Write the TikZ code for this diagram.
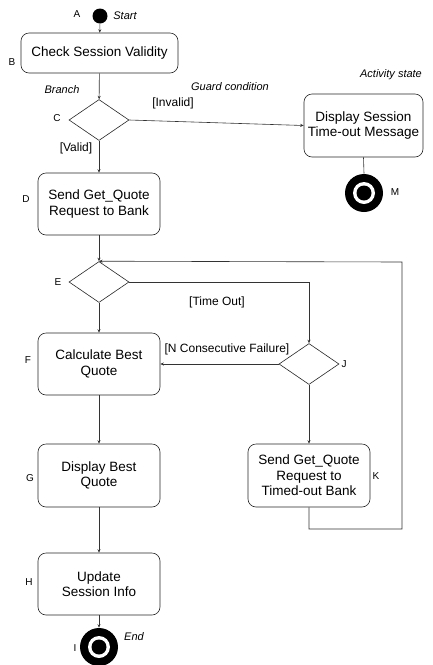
\documentclass[tikz,border=0pt]{standalone}
\usepackage{fontspec}
\setmainfont{Liberation Sans}
\usetikzlibrary{shapes.geometric,arrows.meta}
\begin{document}
\begin{tikzpicture}[x=1pt,y=-1pt,
  line width=0.6pt,
  act/.style={draw=black!85,rounded corners=8pt,minimum width=122pt,minimum height=62pt,align=center,inner sep=2pt,font=\fontsize{13.5}{15.5}\selectfont},
  dec/.style={draw=black!85,shape=diamond,minimum width=60pt,minimum height=41pt,inner sep=0pt},
  lbl/.style={font=\fontsize{10}{11}\selectfont,inner sep=0pt},
  note/.style={font=\fontsize{11}{12}\selectfont\itshape,inner sep=0pt},
  guard/.style={font=\fontsize{12}{13}\selectfont,inner sep=0pt},
  con/.style={draw=black!80},
  arr/.style={con,-{Stealth[length=3.5pt,width=3pt]}}
]
\useasboundingbox (0,0) rectangle (432,665);
% start
\node[circle,fill=black,minimum size=15pt,inner sep=0pt] (A) at (100,16) {};
\node[lbl] (lA) at (77,14) {A};
\node[note] (nStart) at (125,16) {Start};
% B
\node[act,minimum width=157pt,minimum height=40pt] (B) at (99.5,53) {Check Session Validity};
\node[lbl] (lB) at (12,62) {B};
\node[note] (nBranch) at (62,90) {Branch};
% C
\node[dec] (C) at (99,120) {};
\node[lbl] (lC) at (57,118) {C};
\node[guard] (gInv) at (173,103) {[Invalid]};
\node[guard] (gVal) at (76,148) {[Valid]};
\node[note] (nGuard) at (230,87) {Guard condition};
\node[note] (nAct) at (391,75) {Activity state};
% Display
\node[act,minimum width=119pt,minimum height=63pt] (Disp) at (363.5,125.5) {Display Session\\Time-out Message};
% M
\node[circle,fill=black,minimum size=38pt,inner sep=0pt] (M) at (364,193) {};
\node[circle,fill=white,minimum size=22pt,inner sep=0pt] (Mw) at (M.center) {};
\node[circle,fill=black,minimum size=15pt,inner sep=0pt] (Mi) at (M.center) {};
\node[lbl] (lM) at (395,192) {M};
% D
\node[act] (D) at (99,204) {Send Get\_Quote\\Request to Bank};
\node[lbl] (lD) at (26,199) {D};
% E
\node[dec] (E) at (99,282) {};
\node[lbl] (lE) at (58,282) {E};
\node[guard] (gTO) at (217,302) {[Time Out]};
% J
\node[dec] (J) at (309,364) {};
\node[lbl] (lJ) at (344,364) {J};
\node[guard] (gNC) at (227,349) {[N Consecutive Failure]};
% F
\node[act] (F) at (99,364) {Calculate Best\\Quote};
\node[lbl] (lF) at (28,360) {F};
% G
\node[act,minimum height=63pt] (G) at (99,475.5) {Display Best\\Quote};
\node[lbl] (lG) at (30,478) {G};
% H
\node[act] (H) at (99,584) {Update\\Session Info};
\node[lbl] (lH) at (29,582) {H};
% I
\node[circle,fill=black,minimum size=38pt,inner sep=0pt] (I) at (99,647) {};
\node[circle,fill=white,minimum size=22pt,inner sep=0pt] (Iw) at (I.center) {};
\node[circle,fill=black,minimum size=15pt,inner sep=0pt] (Ii) at (I.center) {};
\node[lbl] (lI) at (75,648) {I};
\node[note] (nEnd) at (134,637) {End};
% K
\node[act,minimum height=63pt] (K) at (309,475.5) {Send Get\_Quote\\Request to\\Timed-out Bank};
\node[lbl] (lK) at (376,476) {K};
% loop corners
\coordinate (k1) at (309,529);
\coordinate (k2) at (402,529);
\coordinate (k3) at (402,262);
% connectors
\draw[arr] (A) -- (B);
\draw[arr] (B) -- (C);
\draw[arr] (C.east) -- (Disp.west);
\draw[con] (Disp.south) -- (M.north);
\draw[arr] (C.south) -- (D.north);
\draw[arr] (D.south) -- (E.north);
\draw[arr] (E.east) -| (J.north);
\draw[arr] (J.west) -- (F.east);
\draw[arr] (J.south) -- (K.north);
\draw[arr] (E.south) -- (F.north);
\draw[arr] (F.south) -- (G.north);
\draw[arr] (G.south) -- (H.north);
\draw[arr] (H.south) -- (I.north);
\draw[arr] (K.south) -- (k1) -- (k2) -- (k3) -- (E.north);
\end{tikzpicture}
\end{document}
